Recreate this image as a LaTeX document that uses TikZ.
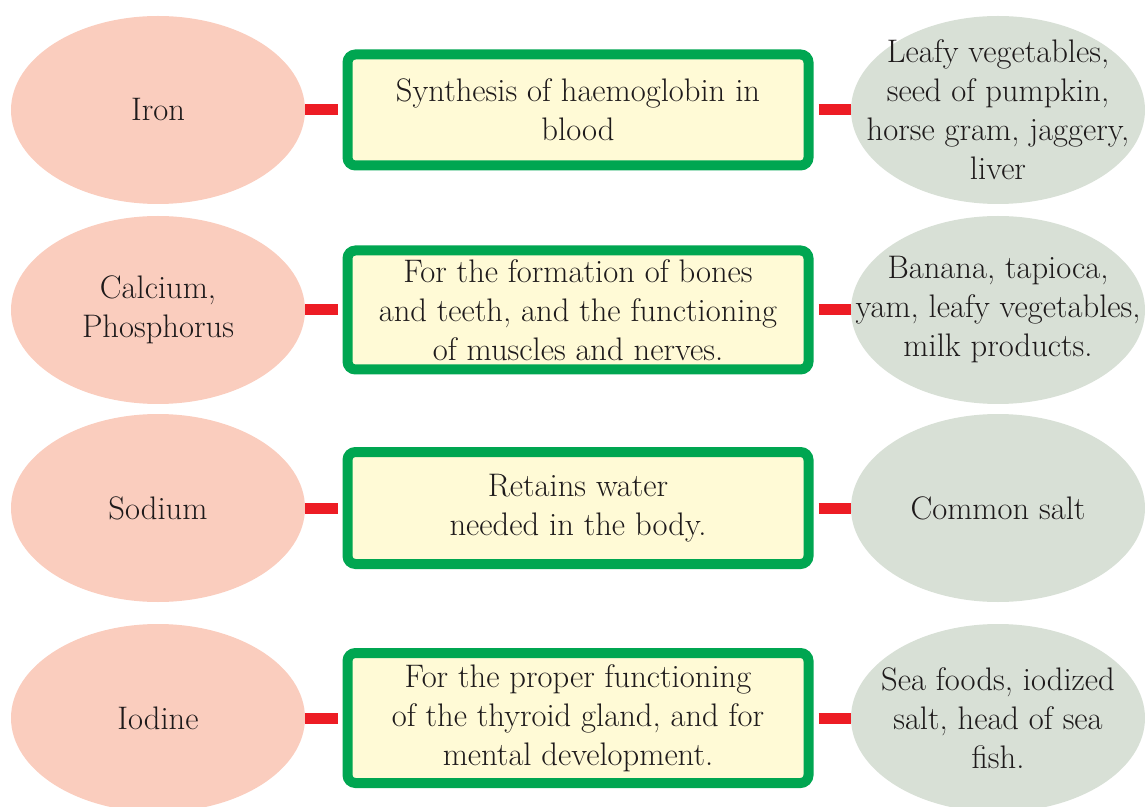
\documentclass[tikz,border=0pt]{standalone}
\usepackage{fontspec}
\definecolor{mineral}{RGB}{250,205,190}
\definecolor{source}{RGB}{216,224,214}
\definecolor{boxfill}{RGB}{255,250,214}
\definecolor{boxline}{RGB}{0,166,81}
\definecolor{linkred}{RGB}{237,28,36}
\definecolor{ink}{RGB}{30,26,27}
\tikzset{
  mineral/.style={ellipse, fill=mineral, minimum width=147pt, minimum height=94pt, inner sep=-20pt, align=center},
  source/.style={ellipse, fill=source, minimum width=147pt, minimum height=94pt, inner sep=-20pt, align=center},
  role/.style={draw=boxline, line width=5pt, fill=boxfill, rounded corners=4pt, minimum width=230.5pt, inner sep=0pt, align=center},
  link/.style={draw=linkred, line width=5.5pt}
}
\usetikzlibrary{shapes.geometric}
\begin{document}
\begin{tikzpicture}[node distance=210pt, font=\rmfamily\fontsize{16.3}{19.5}\selectfont, text=ink]
    \useasboundingbox (0,0) rectangle (572.5pt,-403.5pt);
    \clip (0,0) rectangle (572.5pt,-403.5pt);
    \node[mineral] (iron) at (79pt,-55pt) {Iron};
    \node[mineral, below of=iron, node distance=100pt] (calcium) {Calcium,\\Phosphorus};
    \node[mineral, below of=calcium, node distance=99pt] (sodium) {Sodium};
    \node[mineral, below of=sodium, node distance=105pt] (iodine) {Iodine};

    \node[role, minimum height=55.5pt, right of=iron] (blood) {Synthesis of haemoglobin in\\blood};
    \node[role, minimum height=59.5pt, right of=calcium] (bones) {For the formation of bones\\and teeth, and the functioning\\of muscles and nerves.};
    \node[role, minimum height=56pt, right of=sodium] (water) {Retains water\\needed in the body.};
    \node[role, minimum height=65pt, right of=iodine] (thyroid) {For the proper functioning\\of the thyroid gland, and for\\mental development.};

    \node[source, right of=blood] (leafy) {Leafy vegetables,\\seed of pumpkin,\\horse gram, jaggery,\\liver};
    \node[source, right of=bones] (banana) {Banana, tapioca,\\yam, leafy vegetables,\\milk products.};
    \node[source, right of=water] (salt) {Common salt};
    \node[source, right of=thyroid] (seafood) {Sea foods, iodized\\salt, head of sea\\fish.};

    % mineral -- role -- source
    \draw[link, shorten >=2.5pt] (iron) -- (blood);
    \draw[link, shorten <=2.5pt] (blood) -- (leafy);
    \draw[link, shorten >=2.5pt] (calcium) -- (bones);
    \draw[link, shorten <=2.5pt] (bones) -- (banana);
    \draw[link, shorten >=2.5pt] (sodium) -- (water);
    \draw[link, shorten <=2.5pt] (water) -- (salt);
    \draw[link, shorten >=2.5pt] (iodine) -- (thyroid);
    \draw[link, shorten <=2.5pt] (thyroid) -- (seafood);
\end{tikzpicture}
\end{document}
